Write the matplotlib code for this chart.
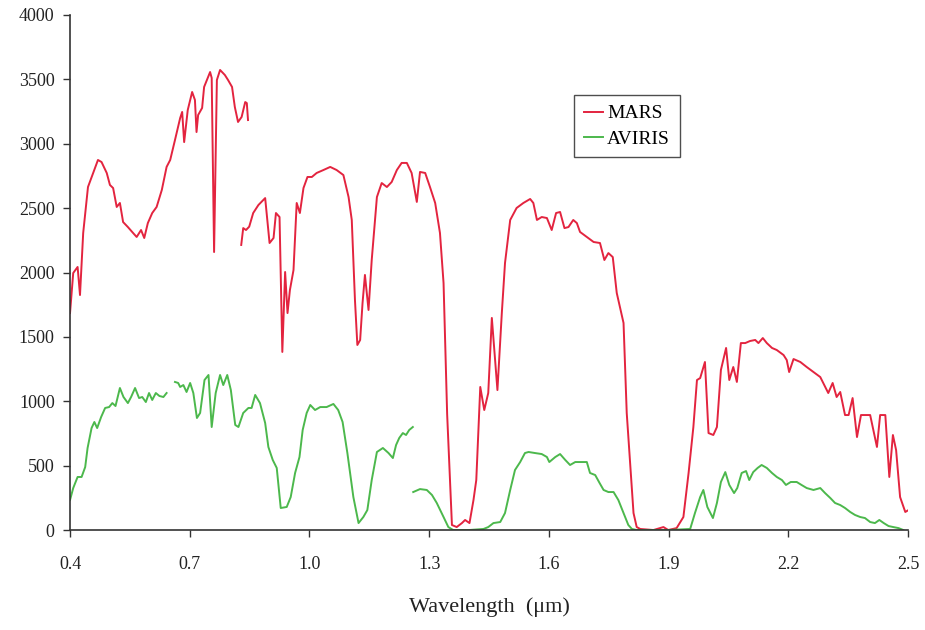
import matplotlib
matplotlib.use("Agg")
import matplotlib.pyplot as plt

# ── MARS radiance (two line segments) ─────────────────────
mars_wl_1 = [0.400, 0.408, 0.419, 0.425, 0.433, 0.445, 0.458, 0.470, 0.479, 0.492,
             0.500, 0.508, 0.517, 0.525, 0.533, 0.545, 0.558, 0.567, 0.578, 0.586,
             0.595, 0.606, 0.617, 0.630, 0.642, 0.651, 0.663, 0.676, 0.681, 0.686,
             0.695, 0.706, 0.713, 0.717, 0.721, 0.731, 0.736, 0.751, 0.755, 0.761,
             0.768, 0.776, 0.788, 0.796, 0.806, 0.813, 0.821, 0.830, 0.839, 0.843,
             0.846]
mars_val_1 = [1685, 1996, 2043, 1825, 2307, 2664, 2773, 2874, 2858, 2773,
              2680, 2656, 2509, 2540, 2392, 2353, 2307, 2276, 2330, 2268,
              2384, 2462, 2509, 2641, 2820, 2874, 3029, 3200, 3247, 3013,
              3262, 3402, 3340, 3091, 3223, 3278, 3441, 3557, 3511, 2159,
              3495, 3573, 3534, 3495, 3441, 3285, 3169, 3208, 3324, 3316,
              3184]

mars_wl_2 = [0.829, 0.834, 0.841, 0.849, 0.859, 0.872, 0.889, 0.900, 0.910, 0.916,
             0.925, 0.932, 0.939, 0.945, 0.951, 0.960, 0.968, 0.976, 0.985, 0.995,
             1.006, 1.018, 1.035, 1.052, 1.068, 1.085, 1.098, 1.106, 1.114, 1.120,
             1.127, 1.133, 1.139, 1.148, 1.156, 1.169, 1.181, 1.194, 1.206, 1.219,
             1.231, 1.244, 1.256, 1.269, 1.277, 1.290, 1.302, 1.315, 1.327, 1.336,
             1.345, 1.357, 1.369, 1.382, 1.390, 1.401, 1.411, 1.418, 1.428, 1.438,
             1.448, 1.457, 1.471, 1.482, 1.490, 1.503, 1.519, 1.536, 1.553, 1.561,
             1.570, 1.582, 1.595, 1.607, 1.618, 1.628, 1.639, 1.649, 1.661, 1.670,
             1.678, 1.695, 1.712, 1.728, 1.739, 1.749, 1.760, 1.770, 1.787, 1.795,
             1.812, 1.820, 1.829, 1.862, 1.887, 1.899, 1.920, 1.937, 1.950, 1.962,
             1.971, 1.979, 1.991, 2.000, 2.012, 2.021, 2.031, 2.044, 2.052, 2.062,
             2.071, 2.081, 2.092, 2.104, 2.117, 2.125, 2.136, 2.146, 2.159, 2.171,
             2.188, 2.196, 2.202, 2.213, 2.230, 2.246, 2.263, 2.280, 2.290, 2.300,
             2.311, 2.321, 2.330, 2.342, 2.351, 2.361, 2.372, 2.382, 2.397, 2.405,
             2.422, 2.430, 2.443, 2.453, 2.462, 2.470, 2.480, 2.493, 2.501]
mars_val_2 = [2214, 2345, 2330, 2356, 2462, 2524, 2578, 2229, 2268, 2462,
              2431, 1383, 2004, 1685, 1864, 2019, 2540, 2462, 2656, 2742,
              2742, 2773, 2796, 2820, 2796, 2757, 2586, 2408, 1786, 1437,
              1476, 1763, 1981, 1709, 2097, 2586, 2695, 2664, 2703, 2796,
              2851, 2851, 2773, 2548, 2781, 2773, 2664, 2540, 2307, 1918,
              900, 39, 23, 54, 78, 54, 233, 388, 1111, 932,
              1064, 1647, 1087, 1685, 2074, 2408, 2501, 2540, 2571, 2540,
              2408, 2431, 2423, 2330, 2462, 2470, 2345, 2353, 2408, 2384,
              2315, 2276, 2237, 2229, 2097, 2151, 2120, 1841, 1608, 909,
              132, 23, 8, 0, 23, 0, 15, 101, 443, 800,
              1165, 1180, 1305, 753, 738, 800, 1243, 1414, 1165, 1266,
              1150, 1452, 1452, 1468, 1476, 1452, 1491, 1452, 1414, 1398,
              1359, 1320, 1227, 1328, 1305, 1266, 1227, 1188, 1126, 1064,
              1142, 1033, 1072, 893, 893, 1025, 722, 893, 893, 893,
              645, 893, 893, 412, 738, 621, 256, 140, 155]

# ── AVIRIS radiance (three line segments) ─────────────────
aviris_wl_1 = [0.400, 0.408, 0.419, 0.429, 0.438, 0.444, 0.454, 0.461, 0.468, 0.478,
               0.488, 0.498, 0.506, 0.514, 0.525, 0.534, 0.545, 0.553, 0.563, 0.573,
               0.581, 0.590, 0.598, 0.606, 0.615, 0.624, 0.634, 0.642]
aviris_val_1 = [233, 326, 412, 412, 489, 637, 792, 839, 792, 878,
                948, 955, 986, 963, 1103, 1033, 986, 1033, 1103, 1025,
                1033, 994, 1064, 1010, 1064, 1041, 1033, 1064]

aviris_wl_2 = [0.663, 0.671, 0.676, 0.684, 0.692, 0.701, 0.709, 0.718, 0.726, 0.737,
               0.747, 0.755, 0.765, 0.776, 0.784, 0.794, 0.803, 0.814, 0.822, 0.834,
               0.847, 0.855, 0.864, 0.876, 0.889, 0.897, 0.908, 0.918, 0.928, 0.943,
               0.953, 0.964, 0.975, 0.983, 0.993, 1.002, 1.014, 1.027, 1.043, 1.060,
               1.072, 1.083, 1.095, 1.110, 1.123, 1.135, 1.145, 1.156, 1.169, 1.184,
               1.198, 1.209, 1.217, 1.225, 1.234, 1.242, 1.250, 1.259]
aviris_val_2 = [1150, 1142, 1111, 1126, 1072, 1142, 1064, 870, 909, 1165,
                1204, 800, 1064, 1204, 1126, 1204, 1087, 816, 800, 909,
                948, 948, 1049, 986, 831, 645, 544, 482, 171, 179,
                256, 443, 567, 777, 909, 971, 932, 955, 955, 979,
                932, 839, 598, 256, 54, 101, 155, 388, 606, 637,
                598, 559, 660, 715, 753, 738, 777, 800]

aviris_wl_3 = [1.260, 1.277, 1.294, 1.307, 1.319, 1.336, 1.348, 1.360, 1.400, 1.436,
               1.448, 1.461, 1.478, 1.490, 1.503, 1.515, 1.528, 1.540, 1.549, 1.565,
               1.582, 1.595, 1.601, 1.616, 1.628, 1.641, 1.653, 1.666, 1.682, 1.695,
               1.703, 1.716, 1.727, 1.737, 1.749, 1.762, 1.774, 1.787, 1.799, 1.808,
               1.820, 1.900, 1.954, 1.966, 1.979, 1.987, 1.997, 2.011, 2.021, 2.031,
               2.042, 2.052, 2.064, 2.072, 2.083, 2.094, 2.102, 2.112, 2.123, 2.133,
               2.146, 2.159, 2.171, 2.184, 2.194, 2.206, 2.221, 2.233, 2.246, 2.263,
               2.280, 2.292, 2.305, 2.317, 2.330, 2.342, 2.355, 2.367, 2.380, 2.392,
               2.405, 2.417, 2.428, 2.439, 2.451, 2.463, 2.476, 2.488]
aviris_val_3 = [295, 318, 311, 272, 210, 101, 23, 0, 0, 8,
                23, 54, 62, 132, 311, 466, 528, 598, 606, 598,
                590, 567, 528, 567, 590, 544, 505, 528, 528, 528,
                443, 427, 365, 311, 295, 295, 233, 132, 39, 8,
                0, 0, 8, 132, 256, 311, 179, 93, 210, 373,
                450, 350, 287, 326, 443, 458, 388, 450, 482, 505,
                482, 443, 412, 388, 350, 373, 373, 350, 326, 311,
                326, 287, 249, 210, 194, 171, 140, 117, 101, 93,
                62, 54, 78, 54, 31, 23, 15, 0]

x_ticks = [0.4, 0.7, 1.0, 1.3, 1.6, 1.9, 2.2, 2.5]
y_ticks = [0, 500, 1000, 1500, 2000, 2500, 3000, 3500, 4000]

MARS_COLOR = "#e3243f"
AVIRIS_COLOR = "#4cb84c"

plt.rcParams["font.family"] = ["Liberation Serif", "DejaVu Serif"]

fig = plt.figure(figsize=(9.25, 6.3), dpi=100)
ax = fig.add_axes([0.0757, 0.1587, 0.906, 0.8175])

ax.plot(mars_wl_1, mars_val_1, color=MARS_COLOR, lw=1.4, label="MARS")
ax.plot(mars_wl_2, mars_val_2, color=MARS_COLOR, lw=1.4)
ax.plot(aviris_wl_1, aviris_val_1, color=AVIRIS_COLOR, lw=1.4, label="AVIRIS")
ax.plot(aviris_wl_2, aviris_val_2, color=AVIRIS_COLOR, lw=1.4)
ax.plot(aviris_wl_3, aviris_val_3, color=AVIRIS_COLOR, lw=1.4)

ax.set_xlim(0.4, 2.5)
ax.set_ylim(0, 4000)
ax.set_xticks(x_ticks)
ax.set_xticklabels([f"{t:.1f}" for t in x_ticks])
ax.set_yticks(y_ticks)

for side in ("top", "right"):
    ax.spines[side].set_visible(False)
for side in ("left", "bottom"):
    ax.spines[side].set_color("#333333")
    ax.spines[side].set_linewidth(1.2)

ax.tick_params(axis="x", direction="out", length=5, width=1, pad=14,
               labelsize=13, colors="#333333", labelcolor="#222222")
ax.tick_params(axis="y", direction="out", length=5, width=1, pad=6,
               labelsize=13, colors="#333333", labelcolor="#222222")

ax.set_xlabel("Wavelength  (μm)", fontsize=16, labelpad=17, color="#222222")

leg = ax.legend(loc="upper left", bbox_to_anchor=(574 / 925, 1 - 95 / 630),
                bbox_transform=fig.transFigure, fontsize=14, frameon=True,
                fancybox=False, handlelength=1.0, handletextpad=0.2,
                borderpad=0.5, labelspacing=0.4, borderaxespad=0)
leg.get_frame().set_edgecolor("#222222")
leg.get_frame().set_linewidth(1.0)

fig.savefig("out.png", dpi=100)
